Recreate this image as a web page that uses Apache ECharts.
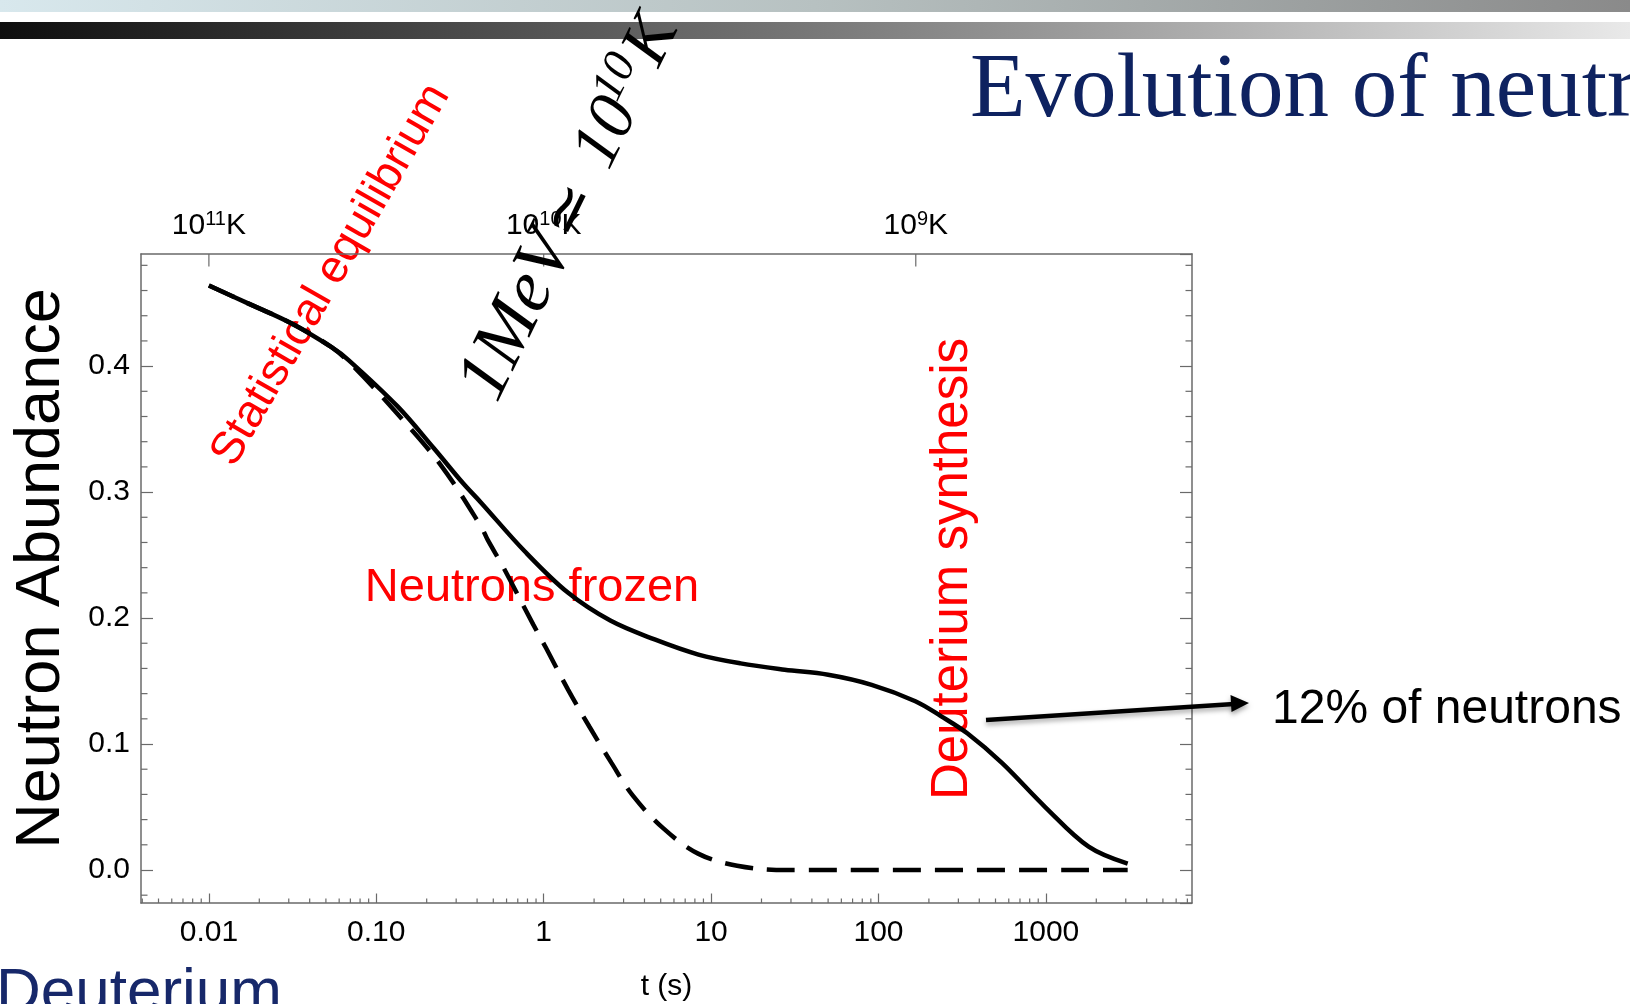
<!DOCTYPE html>
<html>
<head>
<meta charset="utf-8">
<script src="https://cdn.jsdelivr.net/npm/echarts@6/dist/echarts.min.js"></script>
<style>
html,body{margin:0;padding:0;background:#fff;}
#main{width:1630px;height:1004px;}
</style>
</head>
<body>
<div id="main"></div>
<script>
// neutron abundance (solid), t in seconds
var tSolid = [0.01, 0.017, 0.031, 0.054, 0.068, 0.134, 0.22, 0.33, 0.42, 0.77, 1.4, 2.5, 4.6, 8.4, 15, 27.5, 50, 91, 166, 237, 339, 546, 990, 1800, 3080];
var nSolid = [0.464, 0.450, 0.434, 0.415, 0.405, 0.368, 0.335, 0.307, 0.292, 0.253, 0.220, 0.198, 0.183, 0.171, 0.164, 0.159, 0.155, 0.147, 0.134, 0.122, 0.1085, 0.085, 0.050, 0.0185, 0.005];
// equilibrium abundance (dashed)
var tEq = [0.01, 0.017, 0.031, 0.054, 0.074, 0.134, 0.244, 0.423, 0.463, 0.57, 0.865, 1.035, 1.4, 1.88, 2.54, 3.41, 5.19, 8.36, 14.3, 28.2, 3080];
var nEq = [0.464, 0.450, 0.434, 0.415, 0.399, 0.362, 0.321, 0.2725, 0.262, 0.241, 0.195, 0.176, 0.143, 0.1135, 0.085, 0.059, 0.033, 0.013, 0.0034, 0.0, 0.0];

var xTickLabels = {'-2': '0.01', '-1': '0.10', '0': '1', '1': '10', '2': '100', '3': '1000'};
var tempTicks = [0.01, 1, 167];
var tempExp = ['11', '10', '9'];
var yMinorTicks = [-0.02, 0.02, 0.04, 0.06, 0.08, 0.12, 0.14, 0.16, 0.18, 0.22, 0.24, 0.26, 0.28, 0.32, 0.34, 0.36, 0.38, 0.42, 0.44, 0.46, 0.48];
var xMinorMult = [2, 3, 4, 5, 6, 7, 8, 9];
var xDecades = [-3, -2, -1, 0, 1, 2, 3];

var X_MIN = 0.00393, X_MAX = 7460, Y_MIN = -0.0262, Y_MAX = 0.489;
var FONT = 'Liberation Sans';
var SERIF = 'Liberation Serif';
var AXIS_COLOR = '#6a6a6a';

function zip(a, b) {
    return a.map(function (v, i) { return [v, b[i]]; });
}

var measureCtx = document.createElement('canvas').getContext('2d');
function textWidth(str, size, family, style) {
    measureCtx.font = (style || 'normal') + ' ' + size + 'px "' + family + '"';
    return measureCtx.measureText(str).width;
}

var xMinorData = [];
xDecades.forEach(function (d) {
    xMinorMult.forEach(function (m) {
        var v = m * Math.pow(10, d);
        if (v > X_MIN && v < X_MAX) xMinorData.push([v, Y_MIN]);
    });
});

// pieces of "1MeV ≃ 10^10 K" laid out along a rotated baseline
function mathText(str, x, y, size, italic, align) {
    return {
        type: 'text', z: 100, x: x, y: y,
        style: {text: str, fontSize: size, fontFamily: SERIF, fontStyle: italic ? 'italic' : 'normal',
            fill: '#000', align: align || 'center', verticalAlign: 'middle'}
    };
}

var myChart = echarts.init(document.getElementById('main'), null, {renderer: 'canvas'});

var option = {
    animation: false,
    backgroundColor: '#fff',
    grid: {left: 141, right: 438, top: 254, bottom: 101, outerBoundsMode: 'none'},
    xAxis: [
        {
            type: 'log',
            logBase: 10,
            min: X_MIN,
            max: X_MAX,
            position: 'bottom',
            name: 't (s)',
            nameLocation: 'middle',
            nameGap: 69,
            nameTextStyle: {fontSize: 30, color: '#000', fontFamily: FONT},
            axisLine: {onZero: false, lineStyle: {color: AXIS_COLOR, width: 1.5}},
            axisTick: {inside: true, length: 9.5, lineStyle: {color: AXIS_COLOR, width: 1.2}},
            axisLabel: {
                margin: 15,
                fontSize: 30,
                color: '#000',
                fontFamily: FONT,
                showMinLabel: false,
                showMaxLabel: false,
                formatter: function (v) {
                    var k = Math.round(Math.log10(v));
                    if (Math.abs(Math.log10(v) - k) > 1e-6) return '';
                    return xTickLabels[String(k)] || '';
                }
            },
            splitLine: {show: false}
        },
        {
            type: 'log',
            logBase: 10,
            min: X_MIN,
            max: X_MAX,
            position: 'top',
            axisLine: {onZero: false, lineStyle: {color: AXIS_COLOR, width: 1.5}},
            axisTick: {show: false},
            axisLabel: {show: false},
            splitLine: {show: false}
        }
    ],
    yAxis: [
        {
            type: 'value',
            min: Y_MIN,
            max: Y_MAX,
            splitNumber: 5,
            position: 'left',
            name: 'Neutron Abundance',
            nameLocation: 'middle',
            nameGap: 68,
            nameTextStyle: {fontSize: 63, color: '#000', fontFamily: FONT, padding: [0, 0, 0, 20]},
            axisLine: {lineStyle: {color: AXIS_COLOR, width: 1.5}},
            axisTick: {inside: true, length: 12, lineStyle: {color: AXIS_COLOR, width: 1.2}},
            axisLabel: {
                margin: 11,
                fontSize: 30,
                color: '#000',
                fontFamily: FONT,
                showMinLabel: false,
                showMaxLabel: false,
                formatter: function (v) { return v.toFixed(1); }
            },
            splitLine: {show: false}
        },
        {
            type: 'value',
            min: Y_MIN,
            max: Y_MAX,
            splitNumber: 5,
            position: 'right',
            axisLine: {lineStyle: {color: AXIS_COLOR, width: 1.5}},
            axisTick: {inside: true, length: 12, lineStyle: {color: AXIS_COLOR, width: 1.2}},
            axisLabel: {show: false},
            splitLine: {show: false}
        }
    ],
    series: [
        {
            name: 'equilibrium',
            type: 'line',
            data: zip(tEq, nEq),
            smooth: 0.35,
            showSymbol: false,
            lineStyle: {color: '#000', width: 4.5, type: [28, 14]},
            z: 5
        },
        {
            name: 'abundance',
            type: 'line',
            data: zip(tSolid, nSolid),
            smooth: 0.35,
            showSymbol: false,
            lineStyle: {color: '#000', width: 4.5},
            z: 6
        },
        {
            // log minor ticks on the t axis
            type: 'custom',
            silent: true,
            data: xMinorData,
            renderItem: function (params, api) {
                var p = api.coord([api.value(0), Y_MIN]);
                return {
                    type: 'line',
                    shape: {x1: p[0], y1: p[1], x2: p[0], y2: p[1] - 4.5},
                    style: {stroke: AXIS_COLOR, lineWidth: 1.2}
                };
            },
            z: 3
        },
        {
            // minor ticks left and right
            type: 'custom',
            silent: true,
            data: yMinorTicks.map(function (v) { return [X_MIN, v]; }),
            renderItem: function (params, api) {
                var v = api.value(1);
                var pl = api.coord([X_MIN, v]);
                var pr = api.coord([X_MAX, v]);
                return {
                    type: 'group',
                    children: [
                        {type: 'line', shape: {x1: pl[0], y1: pl[1], x2: pl[0] + 6.5, y2: pl[1]}, style: {stroke: AXIS_COLOR, lineWidth: 1.2}},
                        {type: 'line', shape: {x1: pr[0], y1: pr[1], x2: pr[0] - 6.5, y2: pr[1]}, style: {stroke: AXIS_COLOR, lineWidth: 1.2}}
                    ]
                };
            },
            z: 3
        },
        {
            // temperature ticks on top
            type: 'custom',
            silent: true,
            data: tempTicks.map(function (t) { return [t, Y_MAX]; }),
            renderItem: function (params, api) {
                var p = api.coord([api.value(0), Y_MAX]);
                var sup = tempExp[params.dataIndex];
                var w1 = textWidth('10', 30, FONT), w2 = textWidth(sup, 20, FONT), w3 = textWidth('K', 30, FONT);
                var left = p[0] - (w1 + w2 + w3) / 2;
                var y = p[1] - 28;
                return {
                    type: 'group',
                    children: [
                        {type: 'line', shape: {x1: p[0], y1: p[1], x2: p[0], y2: p[1] + 12.5}, style: {stroke: AXIS_COLOR, lineWidth: 1.2}},
                        {type: 'text', x: left, y: y, style: {text: '10', fontSize: 30, fontFamily: FONT, fill: '#000', align: 'left', verticalAlign: 'middle'}},
                        {type: 'text', x: left + w1, y: y - 7, style: {text: sup, fontSize: 20, fontFamily: FONT, fill: '#000', align: 'left', verticalAlign: 'middle'}},
                        {type: 'text', x: left + w1 + w2, y: y, style: {text: 'K', fontSize: 30, fontFamily: FONT, fill: '#000', align: 'left', verticalAlign: 'middle'}}
                    ]
                };
            },
            z: 3
        }
    ],
    graphic: [
        {
            type: 'rect', z: 0,
            shape: {x: 0, y: 0, width: 1630, height: 12},
            style: {fill: new echarts.graphic.LinearGradient(0, 0, 1, 0, [
                {offset: 0, color: '#d8e8ed'}, {offset: 0.5, color: '#b7c1c1'}, {offset: 1, color: '#8a8a8a'}
            ])}
        },
        {
            type: 'rect', z: 0,
            shape: {x: 0, y: 22, width: 1630, height: 17},
            style: {fill: new echarts.graphic.LinearGradient(0, 0, 1, 0, [
                {offset: 0, color: '#0e0e0e'}, {offset: 0.5, color: '#787878'}, {offset: 1, color: '#e9e9e9'}
            ])}
        },
        {
            type: 'text', z: 0, x: 970, y: 92,
            style: {text: 'Evolution of neutron abundance', fontSize: 91, fontFamily: SERIF, fill: '#0e2260', verticalAlign: 'middle'}
        },
        {
            type: 'text', z: 0, x: -4, y: 994,
            style: {text: 'Deuterium', fontSize: 62, fontFamily: FONT, fill: '#17286a', verticalAlign: 'middle'}
        },
        {
            type: 'text', z: 0, x: 532, y: 588,
            style: {text: 'Neutrons frozen', fontSize: 47, fontFamily: FONT, fill: '#ff0000', align: 'center', verticalAlign: 'middle'}
        },
        {
            type: 'text', z: 0, x: 953, y: 569, rotation: Math.PI / 2,
            style: {text: 'Deuterium synthesis', fontSize: 51, fontFamily: FONT, fill: '#ff0000', align: 'center', verticalAlign: 'middle'}
        },
        {
            type: 'text', z: 0, x: 331, y: 275, rotation: Math.PI / 3,
            style: {text: 'Statistical equilibrium', fontSize: 46, fontFamily: FONT, fill: '#ff0000', align: 'center', verticalAlign: 'middle'}
        },
        {
            type: 'group', z: 100, x: 481, y: 392, rotation: 64 * Math.PI / 180,
            children: [
                mathText('1MeV', -4, 0, 74, true, 'left'),
                mathText('\u2243', 202, 2, 64, false),
                mathText('10', 288, 0, 68, true),
                mathText('10', 342, -17, 46, true),
                mathText('K', 391, 0, 68, true)
            ]
        },
        {
            type: 'polyline', z: 100,
            shape: {points: [[986, 720], [1234, 704]]},
            style: {stroke: '#000', lineWidth: 4.5, shadowBlur: 5, shadowColor: 'rgba(0,0,0,0.35)', shadowOffsetY: 3}
        },
        {
            type: 'polygon', z: 100,
            shape: {points: [[1249, 703], [1231.5, 712], [1230.5, 695]]},
            style: {fill: '#000', shadowBlur: 5, shadowColor: 'rgba(0,0,0,0.35)', shadowOffsetY: 3}
        },
        {
            type: 'text', z: 100, x: 1272, y: 710,
            style: {text: '12% of neutrons', fontSize: 48, fontFamily: FONT, fill: '#000', verticalAlign: 'middle'}
        }
    ]
};

myChart.setOption(option);
</script>
</body>
</html>
